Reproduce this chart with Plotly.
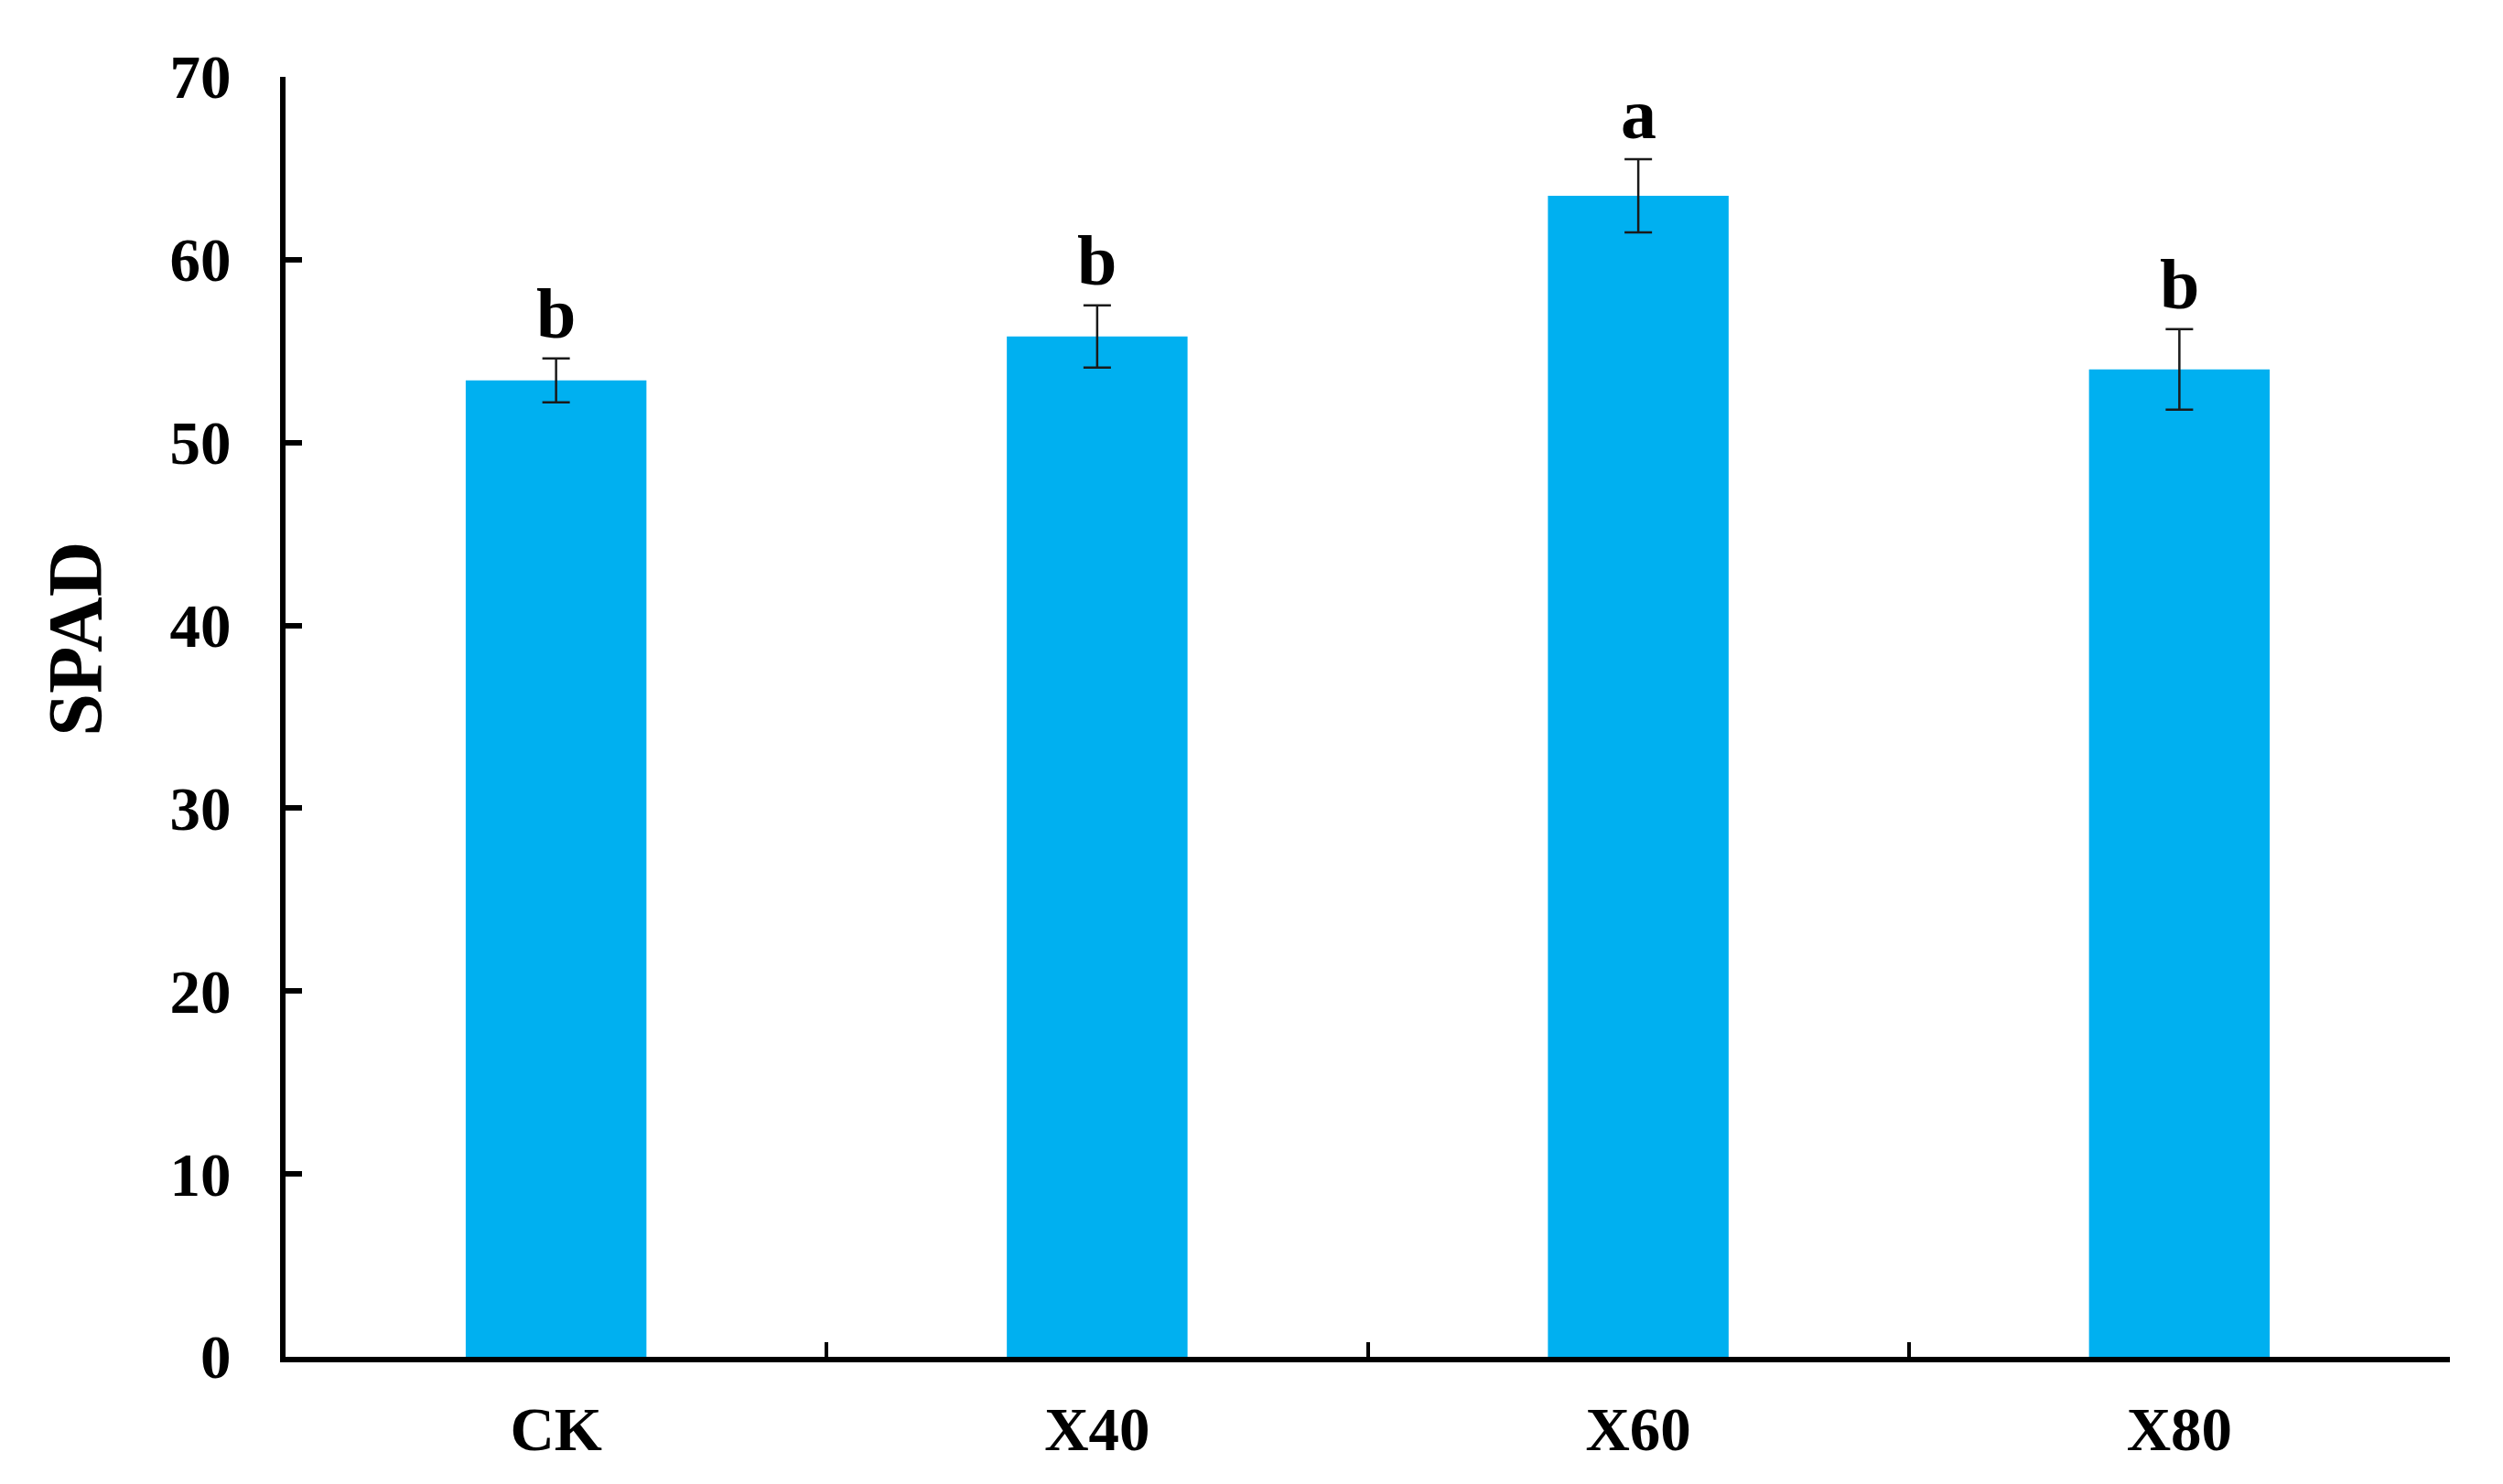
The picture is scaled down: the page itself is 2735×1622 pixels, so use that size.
import plotly.graph_objects as go

treatments = ["CK", "X40", "X60", "X80"]
spad_mean = [53.4, 55.8, 63.5, 54.0]
spad_err = [1.2, 1.7, 2.0, 2.2]
letters = ["b", "b", "a", "b"]
y_ticks = [0, 10, 20, 30, 40, 50, 60, 70]

FONT = "Times New Roman, Liberation Serif, serif"
BAR_COLOR = "#00B0F0"

fig = go.Figure(
    data=[
        go.Bar(
            x=treatments,
            y=spad_mean,
            marker={"color": BAR_COLOR, "line": {"width": 0}},
            error_y={
                "type": "data",
                "array": spad_err,
                "visible": True,
                "color": "#1a1a1a",
                "thickness": 2.5,
                "width": 15,
            },
        )
    ]
)

for name, mean, err, letter in zip(treatments, spad_mean, spad_err, letters):
    fig.add_annotation(
        x=name,
        y=mean + err,
        text=letter,
        showarrow=False,
        yanchor="bottom",
        yshift=4,
        font={"family": FONT, "size": 78, "color": "black", "weight": "bold"},
    )

# y axis title sits a bit above the middle in the original
fig.add_annotation(
    xref="paper",
    yref="paper",
    x=-0.097,
    y=0.561,
    text="SPAD",
    textangle=-90,
    showarrow=False,
    xanchor="center",
    yanchor="middle",
    font={"family": FONT, "size": 84, "color": "black", "weight": "bold"},
)

axis_font = {"family": FONT, "size": 67, "color": "black", "weight": "bold"}

fig.update_layout(
    width=2735,
    height=1622,
    paper_bgcolor="white",
    plot_bgcolor="white",
    showlegend=False,
    bargap=0.666,
    margin={"l": 312, "r": 58, "t": 84, "b": 139},
    xaxis={
        "range": [-0.5, 3.5],
        "showline": True,
        "linecolor": "black",
        "linewidth": 6,
        "ticks": "inside",
        "tickson": "boundaries",
        "ticklen": 16,
        "tickwidth": 4,
        "tickcolor": "black",
        "tickfont": axis_font,
        "ticklabelstandoff": 16,
        "showgrid": False,
        "zeroline": False,
    },
    yaxis={
        "range": [0, 70],
        "tickvals": y_ticks,
        "showline": True,
        "linecolor": "black",
        "linewidth": 6,
        "ticks": "inside",
        "ticklen": 18,
        "tickwidth": 6,
        "tickcolor": "black",
        "tickfont": axis_font,
        "ticklabelstandoff": 40,
        "showgrid": False,
        "zeroline": False,
    },
)

fig.write_html(
    "out.html",
    config={"displayModeBar": False},
    post_script="document.body.style.margin='0';",
)
